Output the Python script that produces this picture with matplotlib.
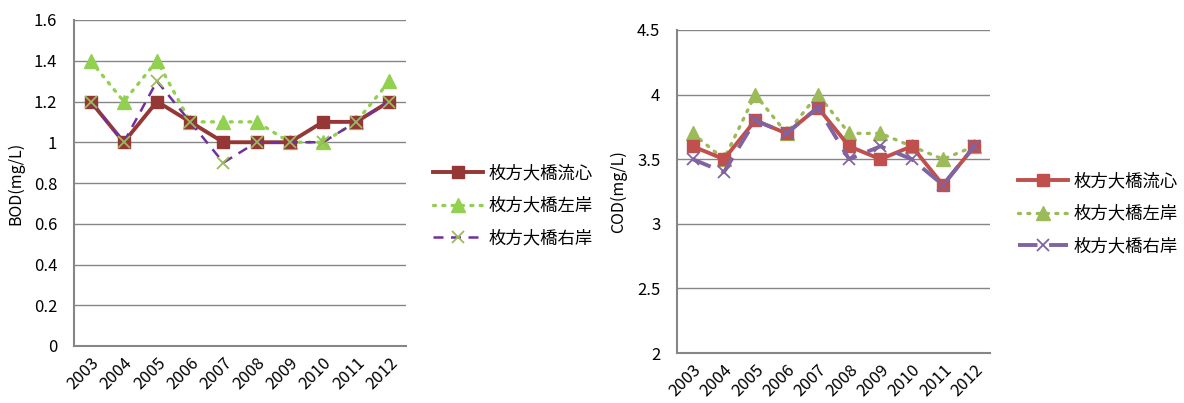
import matplotlib
matplotlib.use("Agg")
import matplotlib.pyplot as plt

plt.rcParams['font.family'] = ['Noto Sans CJK JP', 'DejaVu Sans']

years = ["2003", "2004", "2005", "2006", "2007", "2008", "2009", "2010", "2011", "2012"]
series_names = ["枚方大橋流心", "枚方大橋左岸", "枚方大橋右岸"]

bod_center = [1.2, 1.0, 1.2, 1.1, 1.0, 1.0, 1.0, 1.1, 1.1, 1.2]
bod_left = [1.4, 1.2, 1.4, 1.1, 1.1, 1.1, 1.0, 1.0, 1.1, 1.3]
bod_right = [1.2, 1.0, 1.3, 1.1, 0.9, 1.0, 1.0, 1.0, 1.1, 1.2]

cod_center = [3.6, 3.5, 3.8, 3.7, 3.9, 3.6, 3.5, 3.6, 3.3, 3.6]
cod_left = [3.7, 3.5, 4.0, 3.7, 4.0, 3.7, 3.7, 3.6, 3.5, 3.6]
cod_right = [3.5, 3.4, 3.8, 3.7, 3.9, 3.5, 3.6, 3.5, 3.3, 3.6]

W, H = 1184, 403
fig = plt.figure(figsize=(W / 100, H / 100), dpi=100)
ax1 = fig.add_axes([74 / W, 1 - 346 / H, 332 / W, 326 / H])
ax2 = fig.add_axes([677 / W, 1 - 353 / H, 313 / W, 323 / H])

x = list(range(len(years)))


def style_axes(ax, ylim, yticks, ylabels, ylabel):
    ax.set_xlim(-0.5, len(years) - 0.5)
    ax.set_ylim(*ylim)
    ax.set_yticks(yticks)
    ax.set_yticklabels(ylabels, fontsize=12)
    ax.set_xticks(x)
    ax.set_xticklabels(years, rotation=45, ha='right', rotation_mode='anchor', fontsize=12)
    ax.tick_params(axis='y', length=0, pad=12)
    ax.tick_params(axis='x', length=0, pad=6)
    ax.grid(axis='y', color='#868686', linewidth=1)
    ax.set_axisbelow(True)
    for s in ('top', 'right'):
        ax.spines[s].set_visible(False)
    for s in ('left', 'bottom'):
        ax.spines[s].set_color('#868686')
        ax.spines[s].set_linewidth(1.5)
    ax.set_ylabel(ylabel, fontsize=11.5, labelpad=7)


def add_legend(ax, left_px, top_px):
    ax.legend(loc='upper left', bbox_to_anchor=(left_px / W, 1 - top_px / H),
              bbox_transform=fig.transFigure, frameon=False, borderpad=0,
              borderaxespad=0, fontsize=12.5, handlelength=2.9,
              labelspacing=0.85, handletextpad=0.3)


# BOD panel
ax1.plot(x, bod_center, color='#953735', lw=2.8, marker='s', ms=8.5,
         mfc='#953735', mec='#953735', label=series_names[0], zorder=3)
ax1.plot(x, bod_left, color='#92D050', lw=2.4, ls=(0, (0.6, 2.2)), dash_capstyle='round',
         marker='^', ms=9.5, mfc='#92D050', mec='#92D050', label=series_names[1], zorder=2)
ax1.plot(x, bod_right, color='#7030A0', lw=1.8, ls=(0, (4, 3)), marker='x', ms=8,
         mec='#9BBB59', mew=1.3, label=series_names[2], zorder=4)
style_axes(ax1, (0, 1.6), [0, 0.2, 0.4, 0.6, 0.8, 1.0, 1.2, 1.4, 1.6],
           ['0', '0.2', '0.4', '0.6', '0.8', '1', '1.2', '1.4', '1.6'], 'BOD(mg/L)')
add_legend(ax1, 433, 164)

# COD panel
ax2.plot(x, cod_center, color='#C0504D', lw=2.8, marker='s', ms=8.5,
         mfc='#C0504D', mec='#C0504D', label=series_names[0], zorder=3)
ax2.plot(x, cod_left, color='#9BBB59', lw=2.4, ls=(0, (0.6, 2.2)), dash_capstyle='round',
         marker='^', ms=9.5, mfc='#9BBB59', mec='#9BBB59', label=series_names[1], zorder=2)
ax2.plot(x, cod_right, color='#8064A2', lw=2.8, ls=(0, (5, 3)), marker='x', ms=8,
         mec='#8064A2', mew=1.3, label=series_names[2], zorder=4)
style_axes(ax2, (2, 4.5), [2, 2.5, 3, 3.5, 4, 4.5],
           ['2', '2.5', '3', '3.5', '4', '4.5'], 'COD(mg/L)')
add_legend(ax2, 1018, 172)

fig.savefig('out.png', dpi=100)
